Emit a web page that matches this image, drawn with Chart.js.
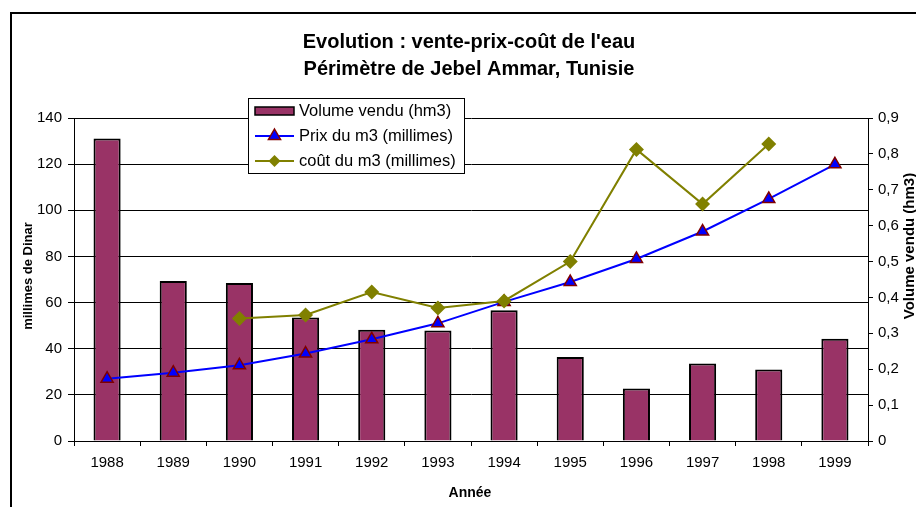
<!DOCTYPE html>
<html>
<head>
<meta charset="utf-8">
<script src="https://cdn.jsdelivr.net/npm/chart.js"></script>
<style>
  body { margin: 0; background: #fff; }
  #wrap { width: 916px; height: 507px; }
</style>
</head>
<body>
<div id="wrap"><canvas id="eau-chart" width="916" height="507"></canvas></div>
<script>
// data
const years = ["1988", "1989", "1990", "1991", "1992", "1993", "1994", "1995", "1996", "1997", "1998", "1999"];
const volumeVendu = [0.843, 0.446, 0.440, 0.344, 0.310, 0.308, 0.364, 0.234, 0.146, 0.216, 0.199, 0.285];
const prixM3 = [27.0, 29.6, 32.8, 37.9, 44.1, 51.0, 60.3, 68.9, 78.9, 90.8, 104.9, 119.9];
const coutM3 = [null, null, 53.1, 54.6, 64.6, 57.7, 60.7, 77.8, 126.4, 102.7, 128.7, null];
const leftTicks = [0, 20, 40, 60, 80, 100, 120, 140];
const rightTicks = [0, 0.1, 0.2, 0.3, 0.4, 0.5, 0.6, 0.7, 0.8, 0.9];

const FONT = "'Liberation Sans', Arial, sans-serif";
const BAR_COLOR = "#993366";
const PRIX_COLOR = "#0000FF";
const COUT_COLOR = "#808000";

function fmtComma(v) {
  return Number(v.toFixed(1)).toString().replace(".", ",");
}

function triangle(ctx, x, y, r, fill, stroke) {
  ctx.beginPath();
  ctx.moveTo(x, y - r);
  ctx.lineTo(x + r * 0.866, y + r * 0.5);
  ctx.lineTo(x - r * 0.866, y + r * 0.5);
  ctx.closePath();
  ctx.fillStyle = fill;
  ctx.fill();
  ctx.lineWidth = 1.5;
  ctx.strokeStyle = stroke;
  ctx.stroke();
}

function diamond(ctx, x, y, r, fill) {
  ctx.beginPath();
  ctx.moveTo(x, y - r);
  ctx.lineTo(x + r, y);
  ctx.lineTo(x, y + r);
  ctx.lineTo(x - r, y);
  ctx.closePath();
  ctx.fillStyle = fill;
  ctx.fill();
}

// background, frame, titles, axis titles and the boxed legend
const decorations = {
  id: "decorations",
  beforeDraw(chart) {
    const ctx = chart.ctx;
    ctx.save();
    ctx.fillStyle = "#fff";
    ctx.fillRect(0, 0, chart.width, chart.height);
    ctx.strokeStyle = "#000";
    ctx.lineWidth = 2;
    ctx.beginPath();
    ctx.moveTo(11, chart.height);
    ctx.lineTo(11, 13);
    ctx.lineTo(chart.width, 13);
    ctx.stroke();
    ctx.restore();
  },
  afterDraw(chart) {
    const ctx = chart.ctx;
    ctx.save();
    ctx.fillStyle = "#000";
    ctx.textAlign = "center";
    ctx.textBaseline = "alphabetic";
    ctx.font = "bold 20px " + FONT;
    ctx.fillText("Evolution : vente-prix-coût de l'eau", 469, 48);
    ctx.fillText("Périmètre de Jebel Ammar, Tunisie", 469, 75);

    ctx.textBaseline = "middle";
    ctx.font = "bold 14px " + FONT;
    ctx.fillText("Année", 470, 493);

    ctx.save();
    ctx.translate(28, 276);
    ctx.rotate(-Math.PI / 2);
    ctx.font = "bold 13px " + FONT;
    ctx.fillText("millimes de Dinar", 0, 0);
    ctx.restore();

    ctx.save();
    ctx.translate(910, 246);
    ctx.rotate(-Math.PI / 2);
    ctx.font = "bold 15px " + FONT;
    ctx.fillText("Volume vendu (hm3)", 0, 0);
    ctx.restore();

    // legend box
    const lx = 248, ly = 98, lw = 216, lh = 75;
    ctx.fillStyle = "#fff";
    ctx.fillRect(lx, ly, lw, lh);
    ctx.strokeStyle = "#000";
    ctx.lineWidth = 1;
    ctx.strokeRect(lx + 0.5, ly + 0.5, lw, lh);

    const rows = [111, 136, 161];
    ctx.fillStyle = BAR_COLOR;
    ctx.fillRect(255, rows[0] - 4, 39, 8);
    ctx.strokeStyle = "#000";
    ctx.lineWidth = 1.5;
    ctx.strokeRect(255, rows[0] - 4, 39, 8);

    ctx.strokeStyle = PRIX_COLOR;
    ctx.lineWidth = 2;
    ctx.beginPath();
    ctx.moveTo(255, rows[1]);
    ctx.lineTo(294, rows[1]);
    ctx.stroke();
    triangle(ctx, 274.5, rows[1], 7, PRIX_COLOR, "#800000");

    ctx.strokeStyle = COUT_COLOR;
    ctx.lineWidth = 2;
    ctx.beginPath();
    ctx.moveTo(255, rows[2]);
    ctx.lineTo(294, rows[2]);
    ctx.stroke();
    diamond(ctx, 274.5, rows[2], 6, COUT_COLOR);

    ctx.fillStyle = "#000";
    ctx.textAlign = "left";
    ctx.font = "16.5px " + FONT;
    ctx.fillText("Volume vendu (hm3)", 299, rows[0]);
    ctx.fillText("Prix du m3 (millimes)", 299, rows[1]);
    ctx.fillText("coût du m3 (millimes)", 299, rows[2]);
    ctx.restore();
  }
};

const ctx = document.getElementById("eau-chart").getContext("2d");
new Chart(ctx, {
  type: "bar",
  data: {
    labels: years,
    datasets: [
      {
        type: "line",
        label: "coût du m3 (millimes)",
        data: coutM3,
        yAxisID: "y",
        order: 0,
        borderColor: COUT_COLOR,
        backgroundColor: COUT_COLOR,
        borderWidth: 2,
        tension: 0,
        pointStyle: "rectRot",
        pointRadius: 7.5,
        pointBorderWidth: 0,
        spanGaps: false,
      },
      {
        type: "line",
        label: "Prix du m3 (millimes)",
        data: prixM3,
        yAxisID: "y",
        order: 1,
        borderColor: PRIX_COLOR,
        backgroundColor: PRIX_COLOR,
        borderWidth: 2,
        tension: 0,
        pointStyle: "triangle",
        pointRadius: 7,
        pointBorderColor: "#800000",
        pointBorderWidth: 1.5,
      },
      {
        label: "Volume vendu (hm3)",
        data: volumeVendu,
        yAxisID: "y1",
        order: 2,
        backgroundColor: BAR_COLOR,
        borderColor: "#000",
        borderWidth: 2,
        categoryPercentage: 1,
        barPercentage: 0.41,
      },
    ],
  },
  options: {
    responsive: false,
    animation: false,
    devicePixelRatio: 1,
    layout: { padding: { top: 118, left: 0, right: 0, bottom: 0 } },
    plugins: {
      legend: { display: false },
      title: { display: false },
      tooltip: { enabled: false },
    },
    scales: {
      x: {
        offset: true,
        afterFit: (scale) => { scale.height = 66; },
        grid: { offset: true, drawOnChartArea: false, tickLength: 5, color: "#000" },
        border: { color: "#000", width: 1 },
        ticks: { color: "#000", font: { family: FONT, size: 15 }, padding: 8, maxRotation: 0 },
      },
      y: {
        position: "left",
        min: 0,
        max: 140,
        afterFit: (scale) => { scale.width = 74; },
        afterBuildTicks: (scale) => { scale.ticks = leftTicks.map((v) => ({ value: v })); },
        grid: { color: "#000", tickLength: 6 },
        border: { color: "#000", width: 1 },
        ticks: { color: "#000", font: { family: FONT, size: 15 }, padding: 6 },
      },
      y1: {
        position: "right",
        min: 0,
        max: 0.9,
        afterFit: (scale) => { scale.width = 48; },
        afterBuildTicks: (scale) => { scale.ticks = rightTicks.map((v) => ({ value: v })); },
        grid: { drawOnChartArea: false, color: "#000", tickLength: 5 },
        border: { color: "#000", width: 1 },
        ticks: {
          color: "#000",
          font: { family: FONT, size: 15 },
          padding: 5,
          callback: (value) => fmtComma(value),
        },
      },
    },
  },
  plugins: [decorations],
});
</script>
</body>
</html>
